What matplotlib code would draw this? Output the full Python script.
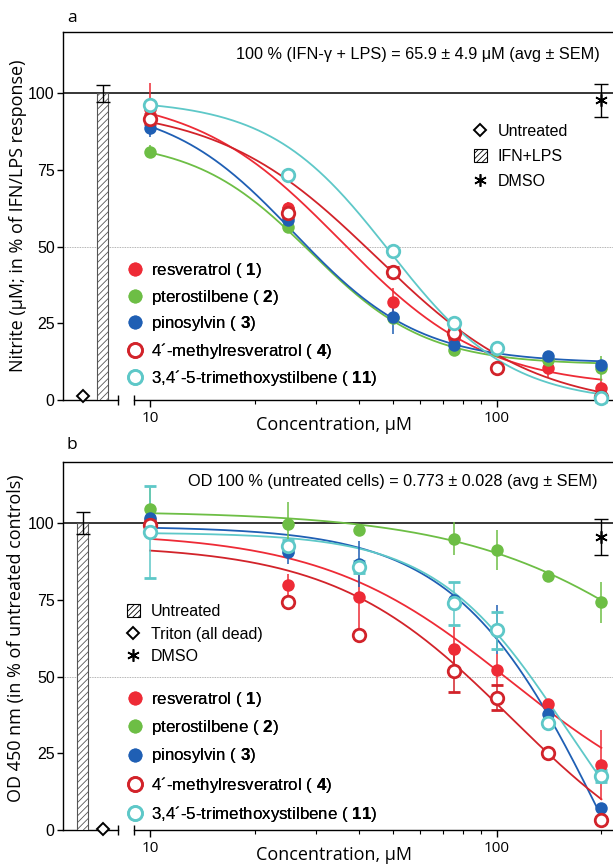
import numpy as np
import matplotlib
matplotlib.use('Agg')
import matplotlib.pyplot as plt
import matplotlib.transforms as mtransforms
from matplotlib.lines import Line2D
from matplotlib.patches import Patch
from matplotlib.ticker import NullFormatter

plt.rcParams['font.family'] = ['Liberation Sans', 'DejaVu Sans']
plt.rcParams['mathtext.fontset'] = 'custom'
plt.rcParams['mathtext.rm'] = 'Liberation Sans'
plt.rcParams['mathtext.bf'] = 'Liberation Sans:bold'
plt.rcParams['hatch.linewidth'] = 0.6

nan = np.nan

# compounds
labels = ['resveratrol ( $\\mathbf{1}$)', 'pterostilbene ( $\\mathbf{2}$)', 'pinosylvin ( $\\mathbf{3}$)',
          '4\u00b4-methylresveratrol ( $\\mathbf{4}$)', '3,4\u00b4-5-trimethoxystilbene ( $\\mathbf{11}$)']
colors = ['#EE2B36', '#6DBE45', '#1F5FB4', '#D2232A', '#5EC8C8']
filled = [True, True, True, False, False]

# panel a: nitrite, % of IFN/LPS response
conc_a = [10, 25, 50, 75, 100, 140, 200]
no_resv = [95.0, 62.5, 32.0, 20.1, nan, 10.3, 4.0]
no_resv_err = [8.5, 2.0, 4.6, 1.5, nan, 2.7, 2.5]
no_ptero = [81.0, 56.4, 26.6, 16.3, nan, 13.2, 10.3]
no_ptero_err = [2.2, 1.0, 1.5, 1.0, nan, 1.0, 4.0]
no_pino = [88.7, 58.6, 27.0, 17.9, nan, 14.3, 11.5]
no_pino_err = [3.0, 1.0, 5.4, 1.0, nan, 1.0, 1.0]
no_methyl = [91.6, 61.0, 41.8, 22.0, 10.5, nan, 1.1]
no_methyl_err = [1.5, 1.5, 1.5, 1.5, 1.0, nan, 1.0]
no_tmos = [96.3, 73.3, 48.6, 25.2, 17.0, nan, 0.5]
no_tmos_err = [1.0, 1.0, 1.0, 1.0, 1.0, nan, 1.0]
# fitted curves: top, bottom, IC50, hill
fit_a_resv = [100, 4, 35.4, 2.06]
fit_a_ptero = [85, 11.5, 29, 2.6]
fit_a_pino = [97, 12, 26, 2.4]
fit_a_methyl = [96, -3, 45, 1.9]
fit_a_tmos = [98, -1, 49, 2.5]
# controls a
untreated_a = 1.3
ifn_lps_a, ifn_lps_a_err = 100.0, 2.8
dmso_a, dmso_a_err = 97.7, 5.5

# panel b: OD 450, % of untreated controls
conc_b = [10, 25, 40, 75, 100, 140, 200]
od_resv = [100.4, 79.8, 75.9, 59.1, 52.1, 41.0, 21.2]
od_resv_err = [3.0, 3.7, 10.0, 7.0, 5.4, 1.0, 11.5]
od_ptero = [104.8, 99.8, 97.7, 95.0, 91.2, 82.8, 74.3]
od_ptero_err = [6.6, 7.0, 1.0, 5.4, 6.5, 1.0, 6.7]
od_pino = [101.8, 90.6, 86.8, 75.1, 65.3, 37.9, 7.3]
od_pino_err = [3.0, 4.0, 7.4, 2.0, 8.0, 1.0, 1.0]
od_methyl = [99.3, 74.3, 63.5, 51.9, 43.2, 25.0, 3.3]
od_methyl_err = [2.0, 1.0, 1.0, 7.0, 4.0, 1.0, 1.0]
od_tmos = [97.2, 92.5, 85.8, 74.0, 65.1, 34.9, 17.6]
od_tmos_err = [15.0, 2.0, 2.0, 7.0, 6.0, 1.0, 2.0]
fit_b_resv = [97, 0, 109.5, 1.6]
fit_b_ptero = [104, 0, 403, 1.35]
fit_b_pino = [99, -100, 210, 2.0]
fit_b_methyl = [93, -20, 110, 1.7]
fit_b_tmos = [97, -30, 157.6, 2.3]
untreated_b, untreated_b_err = 100.0, 3.6
triton_b = 0.3
dmso_b, dmso_b_err = 95.5, 5.8

XMIN, XMAX = 5.61, 216
SEG_END, SEG_START = 8.09, 9.0
HUMANIST = ['Open Sans', 'DejaVu Sans']
ASTER = (6, 2, 0)


def logistic(x, top, bottom, ic50, hill):
    return bottom + (top - bottom) / (1 + (x / ic50) ** hill)


def setup_axes(ax):
    ax.set_xscale('log')
    ax.set_xlim(XMIN, XMAX)
    ax.set_ylim(0, 120)
    ax.spines['right'].set_visible(False)
    ax.spines['bottom'].set_visible(False)
    ax.spines['top'].set_linewidth(1.0)
    ax.spines['left'].set_linewidth(1.0)
    ax.set_yticks([0, 25, 50, 75, 100])
    ax.tick_params(axis='y', length=4, width=1, labelsize=11.5, pad=2)
    ax.set_xticks([10, 100])
    ax.set_xticklabels(['10', '100'], fontfamily=HUMANIST, fontsize=11)
    ax.set_xticks([20, 30, 40, 50, 60, 70, 80, 90, 200], minor=True)
    ax.xaxis.set_minor_formatter(NullFormatter())
    ax.tick_params(axis='x', which='major', length=5, width=1, pad=3)
    ax.tick_params(axis='x', which='minor', length=3, width=0.8)
    ax.axhline(100, color='black', lw=1.1, zorder=1)
    ax.axhline(50, color='#9a9a9a', lw=0.6, ls=(0, (1, 1)), zorder=1)
    # broken bottom axis
    trans = mtransforms.blended_transform_factory(ax.transData, ax.transAxes)
    ax.plot([XMIN, SEG_END], [0, 0], color='black', lw=1, transform=trans, clip_on=False)
    ax.plot([SEG_START, XMAX], [0, 0], color='black', lw=1, transform=trans, clip_on=False)
    ax.plot([SEG_END, SEG_START], [0, 0], ls='none', marker='|', ms=7, mew=1,
            color='black', transform=trans, clip_on=False)


def draw_compounds(ax, conc, means, errs, fits):
    xs = np.logspace(1, np.log10(200), 300)
    for f, c in zip(fits, colors):
        ax.plot(xs, logistic(xs, *f), color=c, lw=1.3, zorder=2)
    for m, e, c, fl in zip(means, errs, colors, filled):
        ax.errorbar(conc, m, yerr=e, fmt='o', ms=9, color=c, ecolor=c,
                    mfc=c if fl else 'white', mec=c, mew=0 if fl else 2.0,
                    elinewidth=1.1, capsize=4.5, capthick=1.1, zorder=3, clip_on=False)


def draw_dmso(ax, value, err):
    ax.errorbar(200, value, yerr=err, fmt='none', ecolor='black', elinewidth=1,
                capsize=5, capthick=1, zorder=4)
    ax.plot(200, value, ls='none', marker=ASTER, ms=9, mew=1.2, color='black', zorder=5)


def compound_legend(ax, anchor, spacing):
    handles = []
    for lab, c, fl in zip(labels, colors, filled):
        handles.append(Line2D([], [], ls='none', marker='o', ms=10, mfc=c if fl else 'white',
                              mec=c, mew=0 if fl else 2.0, label=lab))
    leg = ax.legend(handles=handles, loc='upper left', bbox_to_anchor=anchor, frameon=False,
                    fontsize=12.2, handlelength=1.0, handletextpad=0.45, labelspacing=spacing,
                    borderpad=0, borderaxespad=0)
    ax.add_artist(leg)


fig = plt.figure(figsize=(6.13, 8.65), dpi=100)
ax_a = fig.add_axes([63 / 613, 1 - 400 / 865, 550 / 613, 368 / 865])
ax_b = fig.add_axes([63 / 613, 1 - 830 / 865, 550 / 613, 368 / 865])

# ---- panel a ----
setup_axes(ax_a)
ax_a.bar(7.03, ifn_lps_a, width=0.54, align='edge', color='white', edgecolor='#555555',
         hatch='/////', lw=0.8, zorder=2)
ax_a.errorbar(7.3, ifn_lps_a, yerr=ifn_lps_a_err, fmt='none', ecolor='black', elinewidth=1,
              capsize=5, capthick=1, zorder=3)
ax_a.plot(6.41, untreated_a, ls='none', marker='D', ms=6.5, mfc='white', mec='black', mew=1.4,
          clip_on=False, zorder=4)
draw_dmso(ax_a, dmso_a, dmso_a_err)
draw_compounds(ax_a, conc_a, [no_resv, no_ptero, no_pino, no_methyl, no_tmos],
               [no_resv_err, no_ptero_err, no_pino_err, no_methyl_err, no_tmos_err],
               [fit_a_resv, fit_a_ptero, fit_a_pino, fit_a_methyl, fit_a_tmos])
ax_a.set_ylabel('Nitrite (\u03bcM; in % of IFN/LPS response)', fontfamily=HUMANIST, fontsize=13)
ax_a.yaxis.label.set_va('center')
ax_a.yaxis.set_label_coords(-45 / 550, 0.5)
ax_a.set_xlabel('Concentration, \u03bcM', fontfamily=HUMANIST, fontsize=13)
ax_a.xaxis.label.set_va('center')
ax_a.xaxis.set_label_coords(0.493, -25 / 368)
ax_a.text(0.976, 0.9375, '100 % (IFN-\u03b3 + LPS) = 65.9 \u00b1 4.9 \u03bcM (avg \u00b1 SEM)',
          transform=ax_a.transAxes, ha='right', va='center', fontsize=11.7)
fig.text(72 / 613, 1 - 18 / 865, 'a', fontfamily=HUMANIST, fontsize=12.5, ha='center', va='center')

ctrl_a = [Line2D([], [], ls='none', marker='D', ms=6.5, mfc='white', mec='black', mew=1.4,
                 label='Untreated'),
          Patch(facecolor='white', edgecolor='black', hatch='//////', lw=0.8, label='IFN+LPS'),
          Line2D([], [], ls='none', marker=ASTER, ms=9, mew=1.2, color='black', label='DMSO')]
leg = ax_a.legend(handles=ctrl_a, loc='upper left', bbox_to_anchor=(0.747, 0.750), frameon=False,
                  fontsize=11.5, handlelength=0.8, handleheight=0.8, handletextpad=0.7,
                  labelspacing=0.63, borderpad=0, borderaxespad=0)
ax_a.add_artist(leg)
compound_legend(ax_a, (0.115, 0.378), 0.45)

# ---- panel b ----
setup_axes(ax_b)
ax_b.bar(6.16, untreated_b, width=0.47, align='edge', color='white', edgecolor='#555555',
         hatch='/////', lw=0.8, zorder=2)
ax_b.errorbar(6.39, untreated_b, yerr=untreated_b_err, fmt='none', ecolor='black', elinewidth=1,
              capsize=5, capthick=1, zorder=3)
ax_b.plot(7.32, triton_b, ls='none', marker='D', ms=6.5, mfc='white', mec='black', mew=1.4,
          clip_on=False, zorder=4)
draw_dmso(ax_b, dmso_b, dmso_b_err)
draw_compounds(ax_b, conc_b, [od_resv, od_ptero, od_pino, od_methyl, od_tmos],
               [od_resv_err, od_ptero_err, od_pino_err, od_methyl_err, od_tmos_err],
               [fit_b_resv, fit_b_ptero, fit_b_pino, fit_b_methyl, fit_b_tmos])
ax_b.set_ylabel('OD 450 nm (in % of untreated controls)', fontfamily=HUMANIST, fontsize=13)
ax_b.yaxis.label.set_va('center')
ax_b.yaxis.set_label_coords(-47 / 550, 0.52)
ax_b.set_xlabel('Concentration, \u03bcM', fontfamily=HUMANIST, fontsize=13)
ax_b.xaxis.label.set_va('center')
ax_b.xaxis.set_label_coords(0.493, -25 / 368)
ax_b.text(0.971, 0.9457, 'OD 100 % (untreated cells) = 0.773 \u00b1 0.028 (avg \u00b1 SEM)',
          transform=ax_b.transAxes, ha='right', va='center', fontsize=11.7)
fig.text(72 / 613, 1 - 445 / 865, 'b', fontfamily=HUMANIST, fontsize=12.5, ha='center', va='center')

ctrl_b = [Patch(facecolor='white', edgecolor='black', hatch='//////', lw=0.8, label='Untreated'),
          Line2D([], [], ls='none', marker='D', ms=6.5, mfc='white', mec='black', mew=1.4,
                 label='Triton (all dead)'),
          Line2D([], [], ls='none', marker=ASTER, ms=9, mew=1.2, color='black', label='DMSO')]
leg = ax_b.legend(handles=ctrl_b, loc='upper left', bbox_to_anchor=(0.116, 0.614), frameon=False,
                  fontsize=11.5, handlelength=0.8, handleheight=0.8, handletextpad=0.7,
                  labelspacing=0.47, borderpad=0, borderaxespad=0)
ax_b.add_artist(leg)
compound_legend(ax_b, (0.116, 0.381), 0.55)

fig.savefig('out.png', dpi=100)
